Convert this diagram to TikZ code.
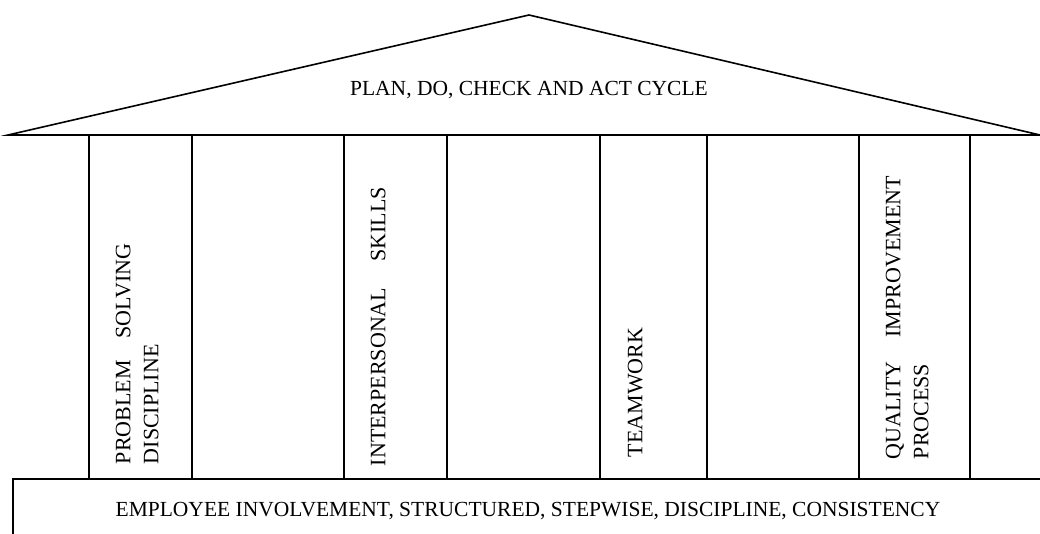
\documentclass[tikz,border=0pt]{standalone}
\usepackage{fontspec}
\setmainfont{Liberation Serif}
\begin{document}
\begin{tikzpicture}[x=1pt,y=-1pt,
  line width=1.6pt, line cap=rect,
  label/.style={font=\fontsize{21.5}{28}\selectfont, inner sep=0pt},
  pillartext/.style={inner sep=0pt, font=\fontsize{22}{28}\selectfont,
    rotate=90, anchor=north west, align=left}]
\useasboundingbox (0,0) rectangle (1040,534);
% roof
\coordinate (roofL) at (8,135);
\coordinate (apex) at (529,15);
\coordinate (roofR) at (1040,135);
\draw (roofL) -- (apex) -- (roofR) -- cycle;
% pillar edges
\foreach \n/\x in {a/89, b/192, c/344, d/447, e/600, f/707, g/859, h/970} {
  \coordinate (\n top) at (\x,135);
  \coordinate (\n bot) at (\x,479);
  \draw (\n top) -- (\n bot);
}
% foundation
\coordinate (baseTL) at (13,479);
\coordinate (baseTR) at (1040,479);
\coordinate (baseBL) at (13,534);
\draw (baseBL) -- (baseTL) -- (baseTR);
% texts
\node[label] (roofText) at (529,90) {PLAN, DO, CHECK AND ACT CYCLE};
\node[label] (baseText) at (528,511) {EMPLOYEE INVOLVEMENT, STRUCTURED, STEPWISE, DISCIPLINE, CONSISTENCY};
\node[pillartext] (p1) at (115,465) {PROBLEM\hspace{22pt}SOLVING\\DISCIPLINE};
\node[pillartext] (p2) at (370,467) {INTERPERSONAL\hspace{26pt}SKILLS};
\node[pillartext] (p3) at (627,458) {TEAMWORK};
\node[pillartext] (p4) at (885,460) {QUALITY\hspace{24pt}IMPROVEMENT\\PROCESS};
\end{tikzpicture}
\end{document}
